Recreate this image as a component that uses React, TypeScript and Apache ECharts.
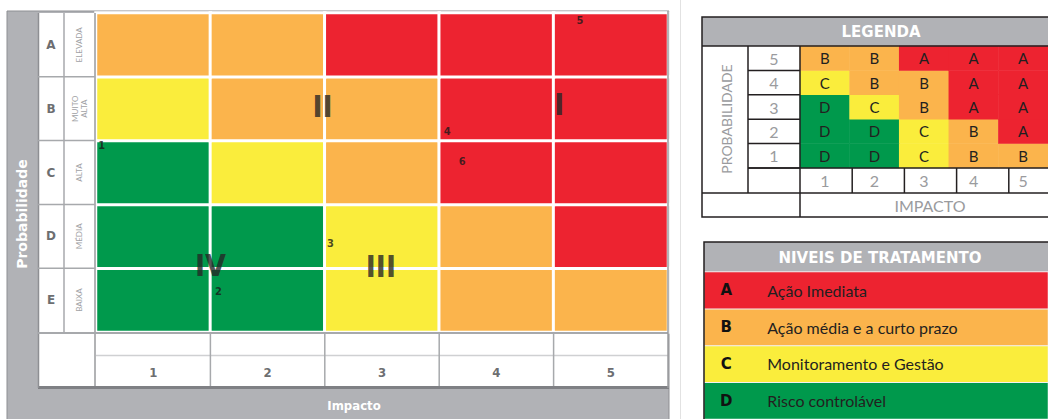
import React, { useEffect, useRef } from "react";
import * as echarts from "echarts";

// ---------- data ----------
const impactLabels = ["1", "2", "3", "4", "5"];
const probLetters = ["E", "D", "C", "B", "A"]; // bottom -> top
const probWords = ["BAIXA", "MÉDIA", "ALTA", "MUITO\nALTA", "ELEVADA"]; // bottom -> top
const probNumbers = ["1", "2", "3", "4", "5"]; // bottom -> top
const levelCodes = ["D", "C", "B", "A"]; // level index 0..3
const levelColors = ["#00994c", "#faed3c", "#fbb44c", "#ed2330"];
const levelNames = [
  "Risco controlável",
  "Monitoramento e Gestão",
  "Ação média e a curto prazo",
  "Ação Imediata",
];
// rows bottom -> top, columns impact 1..5
const matrixRows = [
  ["D", "D", "C", "B", "B"],
  ["D", "D", "C", "B", "A"],
  ["D", "C", "B", "A", "A"],
  ["C", "B", "B", "A", "A"],
  ["B", "B", "A", "A", "A"],
];
const riskPoints = [
  { id: "1", impact: 0.05, prob: 2.92 },
  { id: "2", impact: 1.07, prob: 0.64 },
  { id: "3", impact: 2.05, prob: 1.38 },
  { id: "4", impact: 3.07, prob: 3.15 },
  { id: "5", impact: 4.23, prob: 4.89 },
  { id: "6", impact: 3.2, prob: 2.67 },
];
const zoneLabels = [
  { id: "I", impact: 4.05, prob: 3.57 },
  { id: "II", impact: 1.98, prob: 3.53 },
  { id: "III", impact: 2.49, prob: 1.02 },
  { id: "IV", impact: 1.0, prob: 1.05 },
];

// ---------- layout ----------
const MAIN = { left: 96, top: 13, width: 572, height: 319 };
const LEG = { left: 800, top: 46, width: 261, height: 122 };
const NIV = { left: 704, top: 272, width: 358, height: 149 };
const GREY = "#b1b2b6";
const NARROW = "'Liberation Sans Narrow', 'DejaVu Sans Condensed', sans-serif";

const lvl = (c: string) => levelCodes.indexOf(c);

export default function App() {
  const ref = useRef<HTMLDivElement>(null);
  useEffect(() => {
    document.body.style.margin = "0";
    const chart = echarts.init(ref.current!, undefined, { renderer: "svg" });

    const mainData: any[] = [];
    matrixRows.forEach((row, y) => row.forEach((c, x) => mainData.push([x, y, lvl(c)])));
    const nivData = levelCodes.map((c, i) => [0, i, i]);

    const cw = MAIN.width / 5;
    const ch = MAIN.height / 5;
    const lineC = "#a7a9ac";
    const L = (x1: number, y1: number, x2: number, y2: number, stroke: string, w: number, z = 10) => ({
      type: "line",
      silent: true,
      z,
      shape: { x1, y1, x2, y2 },
      style: { stroke, lineWidth: w },
    });
    const T = (text: string, x: number, y: number, font: string, fill: string, rotation = 0, z = 11) => ({
      type: "text",
      silent: true,
      z,
      x,
      y,
      rotation,
      style: { text, font, fill, textAlign: "center", textVerticalAlign: "middle", align: "center", verticalAlign: "middle" },
    });

    const graphics: any[] = [];
    // left panel frame
    graphics.push({ type: "rect", z: -5, silent: true, shape: { x: 7, y: 11, width: 662, height: 420 }, style: { fill: GREY, stroke: "#8e8f93", lineWidth: 1 } });
    graphics.push({ type: "rect", z: -4, silent: true, shape: { x: 38, y: 13, width: 630, height: 373 }, style: { fill: "#fff" } });
    graphics.push(L(38, 387.5, 669, 387.5, "#7f8084", 3));
    graphics.push(L(38.5, 13, 38.5, 388, "#8e8f93", 1.5));
    graphics.push(L(64, 13, 64, MAIN.top + MAIN.height, lineC, 1.5));
    graphics.push(L(95, 13, 95, 386, "#999a9d", 1.5));
    for (let i = 1; i < 5; i++) graphics.push(L(38, MAIN.top + i * ch, 95, MAIN.top + i * ch, lineC, 1.5));
    graphics.push(L(38, MAIN.top + MAIN.height + 1, 668, MAIN.top + MAIN.height + 1, lineC, 2));
    graphics.push(L(96, 355.5, 668, 355.5, "#cfd0d2", 1.5));
    for (let i = 1; i < 5; i++) graphics.push(L(MAIN.left + i * cw, 333, MAIN.left + i * cw, 386, lineC, 1.5));
    graphics.push(L(668, 11, 668, 388, "#9a9b9e", 1.5));
    graphics.push(T("Probabilidade", 22, 214, "bold 14px 'DejaVu Sans', sans-serif", "#fff", Math.PI / 2));
    graphics.push(T("Impacto", 354, 405, `bold 13px ${NARROW}`, "#fff"));
    graphics.push(L(680.5, 0, 680.5, 419, "#e2e2e2", 1, -5));

    // legend table
    graphics.push({ type: "rect", z: -3, silent: true, shape: { x: 702, y: 17, width: 360, height: 200 }, style: { fill: "#fff" } });
    graphics.push({ type: "rect", z: -2, silent: true, shape: { x: 702, y: 17, width: 360, height: 29 }, style: { fill: GREY } });
    graphics.push({ type: "rect", z: 10, silent: true, shape: { x: 702, y: 17, width: 360, height: 200 }, style: { fill: "none", stroke: "#231f20", lineWidth: 1.5 } });
    graphics.push(L(702, 46, 1062, 46, "#231f20", 1.5));
    graphics.push(T("LEGENDA", 881, 31.5, "bold 15px 'DejaVu Sans', sans-serif", "#fff"));
    const lrh = LEG.height / 5;
    const lcw = LEG.width / 5;
    graphics.push(L(748, 46, 748, LEG.top + LEG.height + 25, "#231f20", 1.5));
    graphics.push(L(800, 46, 800, 217, "#231f20", 1.5));
    for (let i = 1; i <= 5; i++) graphics.push(L(748, LEG.top + i * lrh, 800, LEG.top + i * lrh, "#231f20", 1.5));
    graphics.push(L(748, LEG.top + LEG.height, 1062, LEG.top + LEG.height, "#231f20", 1.5));
    graphics.push(L(702, LEG.top + LEG.height + 25, 1062, LEG.top + LEG.height + 25, "#231f20", 1.5));
    for (let i = 1; i < 5; i++) graphics.push(L(LEG.left + i * lcw, LEG.top + LEG.height, LEG.left + i * lcw, LEG.top + LEG.height + 25, "#231f20", 1.5));
    graphics.push(T("PROBABILIDADE", 726, 119, "14px Lato, sans-serif", "#9a9b9e", Math.PI / 2));
    graphics.push(T("IMPACTO", 930, 205.5, "16px Lato, sans-serif", "#9a9b9e"));

    // niveis table
    graphics.push({ type: "rect", z: -2, silent: true, shape: { x: 704, y: 242, width: 358, height: 30 }, style: { fill: GREY } });
    graphics.push({ type: "rect", z: 10, silent: true, shape: { x: 704, y: 242, width: 358, height: 180 }, style: { fill: "none", stroke: "#231f20", lineWidth: 1.5 } });
    graphics.push(T("NIVEIS DE TRATAMENTO", 880, 257.5, "bold 15px 'DejaVu Sans', sans-serif", "#fff"));

    const hiddenCat = (gridIndex: number, data: string[]) => ({ type: "category", gridIndex, data, show: false });

    chart.setOption({
      animation: false,
      textStyle: { fontFamily: "Lato, sans-serif" },
      grid: [
        { ...MAIN },
        { ...LEG },
        { ...NIV },
        { ...MAIN },
      ],
      xAxis: [
        {
          type: "category",
          gridIndex: 0,
          data: impactLabels,
          axisLine: { show: false },
          axisTick: { show: false },
          splitLine: { show: false },
          axisLabel: { margin: 40, verticalAlign: "middle", color: "#6d6e71", fontWeight: "bold", fontSize: 13, fontFamily: NARROW },
        },
        {
          type: "category",
          gridIndex: 1,
          data: impactLabels,
          axisLine: { show: false },
          axisTick: { show: false },
          splitLine: { show: false },
          axisLabel: { margin: 12.5, verticalAlign: "middle", color: "#9a9b9e", fontSize: 16 },
        },
        hiddenCat(2, ["n"]),
        { type: "value", gridIndex: 3, min: 0, max: 5, show: false },
      ],
      yAxis: [
        {
          type: "category",
          gridIndex: 0,
          data: probLetters,
          axisLine: { show: false },
          axisTick: { show: false },
          splitLine: { show: false },
          axisLabel: { margin: 45, align: "center", color: "#6d6e71", fontWeight: "bold", fontSize: 12, fontFamily: "'DejaVu Sans', sans-serif" },
        },
        {
          type: "category",
          gridIndex: 0,
          data: probWords,
          position: "left",
          axisLine: { show: false },
          axisTick: { show: false },
          splitLine: { show: false },
          axisLabel: { rotate: 90, margin: 17, align: "center", verticalAlign: "middle", color: "#a0a1a4", fontSize: 8, lineHeight: 9 },
        },
        {
          type: "category",
          gridIndex: 1,
          data: probNumbers,
          axisLine: { show: false },
          axisTick: { show: false },
          splitLine: { show: false },
          axisLabel: { margin: 26, align: "center", color: "#9a9b9e", fontSize: 16 },
        },
        hiddenCat(2, levelCodes),
        { type: "value", gridIndex: 3, min: 0, max: 5, show: false },
      ],
      visualMap: {
        type: "piecewise",
        show: false,
        dimension: 2,
        seriesIndex: [0, 1, 2],
        pieces: levelColors.map((color, i) => ({ value: i, color })),
      },
      series: [
        {
          type: "heatmap",
          xAxisIndex: 0,
          yAxisIndex: 0,
          data: mainData,
          itemStyle: { borderColor: "#fff", borderWidth: 3 },
          label: { show: false },
          emphasis: { disabled: true },
        },
        {
          type: "heatmap",
          xAxisIndex: 1,
          yAxisIndex: 2,
          data: mainData,
          itemStyle: { borderWidth: 0 },
          label: {
            show: true,
            formatter: (p: any) => levelCodes[p.value[2]],
            color: "#231f20",
            fontSize: 15,
          },
          emphasis: { disabled: true },
        },
        {
          type: "heatmap",
          xAxisIndex: 2,
          yAxisIndex: 3,
          data: nivData,
          itemStyle: { borderColor: "#f2f2f2", borderWidth: 1 },
          label: {
            show: true,
            position: "insideLeft",
            distance: 0,
            formatter: (p: any) => `{l|${levelCodes[p.value[2]]}}{t|${levelNames[p.value[2]]}}`,
            rich: {
              l: { width: 46, align: "center", fontWeight: "bold", fontSize: 15, color: "#111", fontFamily: "'DejaVu Sans', sans-serif" },
              t: { fontSize: 16, color: "#231f20", padding: [0, 0, 0, 18] },
            },
          },
          emphasis: { disabled: true },
        },
        {
          type: "scatter",
          xAxisIndex: 3,
          yAxisIndex: 4,
          symbolSize: 1,
          itemStyle: { color: "transparent" },
          data: riskPoints.map((p) => ({ name: p.id, value: [p.impact, p.prob] })),
          label: { show: true, position: "inside", formatter: "{b}", color: "#1a1a1a", fontWeight: "bold", fontSize: 11, fontFamily: NARROW },
          z: 5,
        },
        {
          type: "scatter",
          xAxisIndex: 3,
          yAxisIndex: 4,
          symbolSize: 1,
          itemStyle: { color: "transparent" },
          data: zoneLabels.map((p) => ({ name: p.id, value: [p.impact, p.prob] })),
          label: { show: true, position: "inside", formatter: "{b}", color: "#262626", fontWeight: "bold", fontSize: 30, fontFamily: NARROW },
          z: 5,
        },
      ],
      graphic: graphics,
    });
    return () => chart.dispose();
  }, []);
  return <div ref={ref} style={{ width: 1048, height: 419 }} />;
}
